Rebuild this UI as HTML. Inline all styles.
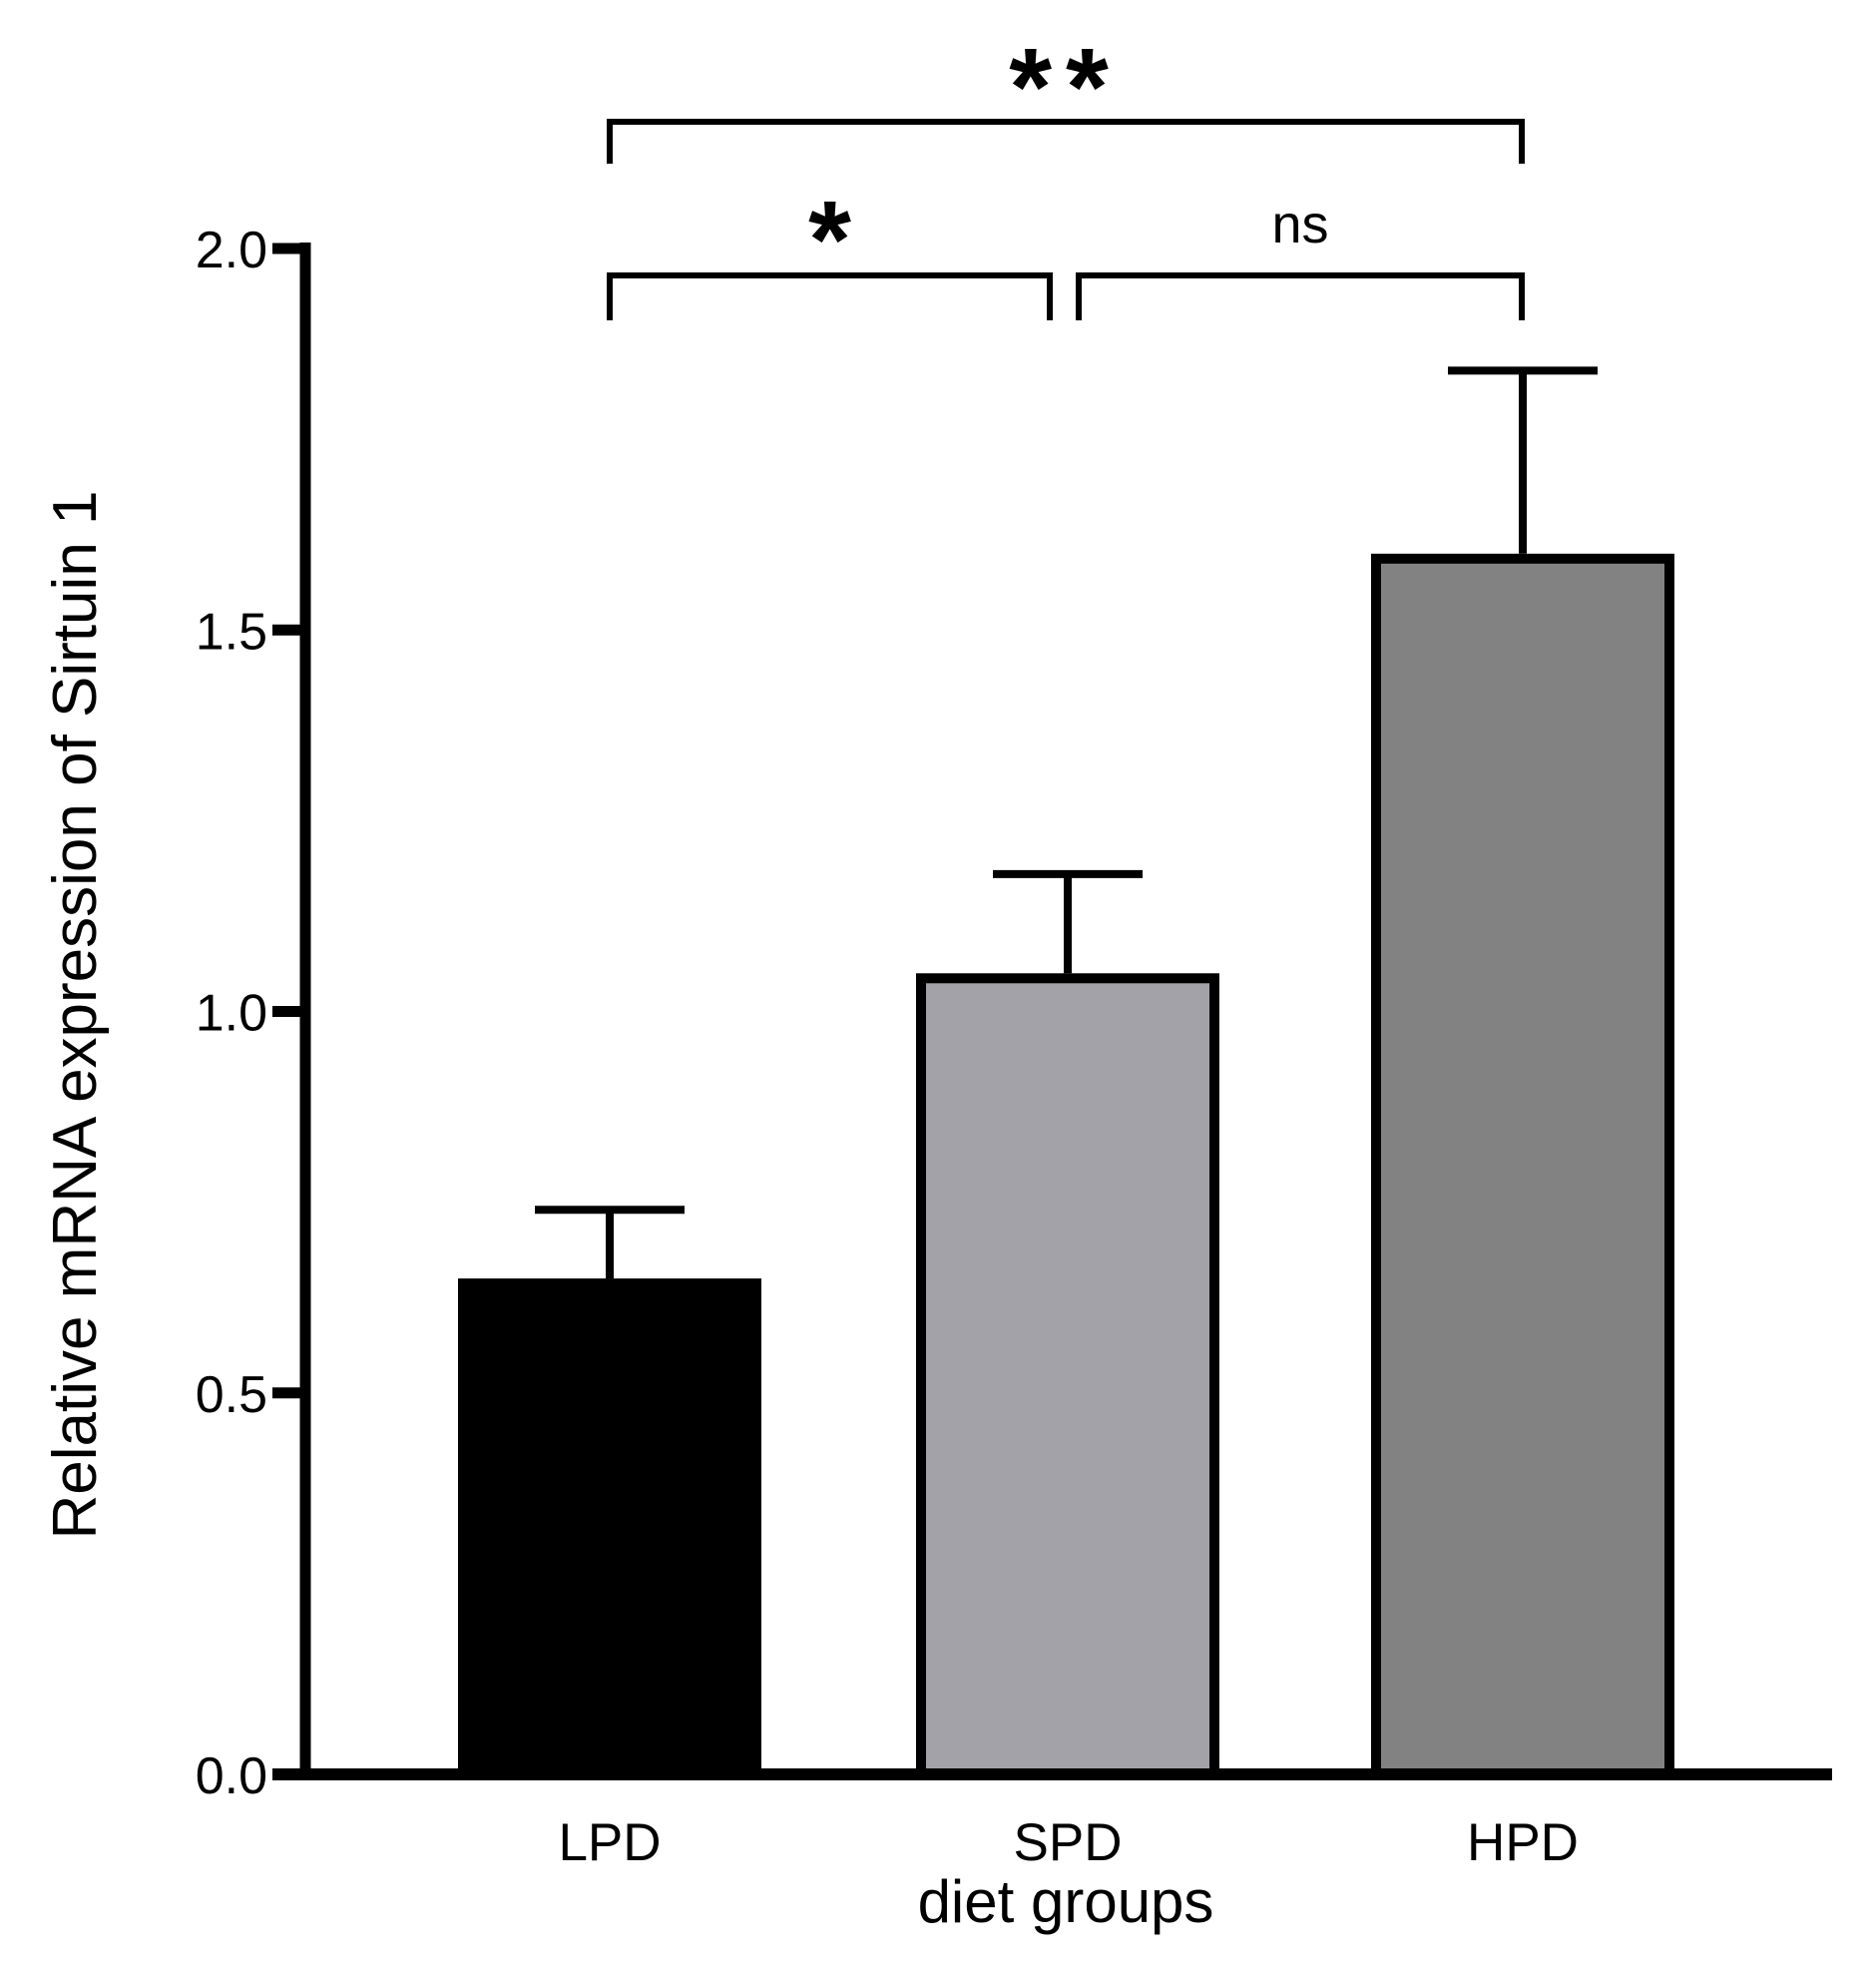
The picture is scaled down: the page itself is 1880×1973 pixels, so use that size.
<!DOCTYPE html>
<html><head><meta charset="utf-8"><style>
html,body{margin:0;padding:0;background:#fff;}
svg{display:block;}
text{font-family:"Liberation Sans","DejaVu Sans",sans-serif;fill:#000;}
</style></head><body>
<svg id="chart" width="1880" height="1973" viewBox="0 0 1880 1973" xmlns="http://www.w3.org/2000/svg">
<g id="plot"></g>
</svg>
<script>
const categories = ["LPD","SPD","HPD"];
const means = [0.65, 1.05, 1.60];
const errors = [0.09, 0.13, 0.24];
const fills = ["#000000","#a3a2a8","#828282"];
const yTicks = [0, 0.5, 1.0, 1.5, 2.0];
const yTickLabels = ["0.0","0.5","1.0","1.5","2.0"];
const sigLabels = ["**","*","ns"];

const NS="http://www.w3.org/2000/svg";
const g=document.getElementById('plot');
const Y0=1778, Y2=249;
function y(v){return Y0-(Y0-Y2)*v/2;}
const barCenters=[611,1070,1526];
function x(i){return barCenters[i];}
const barW=304;
function el(tag,attrs,parent){const e=document.createElementNS(NS,tag);for(const k in attrs)e.setAttribute(k,attrs[k]);(parent||g).appendChild(e);return e;}

means.forEach((m,i)=>{
  const cx=x(i);
  const eLine=el('line',{x1:cx,x2:cx,y1:y(m),y2:y(m+errors[i]),stroke:'#000','stroke-width':8});
  
  
  const cap=el('line',{x1:cx-75,x2:cx+75,y1:y(m+errors[i]),y2:y(m+errors[i]),stroke:'#000','stroke-width':8});
  
  
  const r=el('rect',{x:cx-barW/2+5,y:y(m)+5,width:barW-10,height:Y0-y(m)-5,fill:fills[i],stroke:'#000','stroke-width':10});
  
  
  const t=el('text',{x:cx,y:1864,'font-size':53,'text-anchor':'middle'});
  t.textContent=categories[i];
  
  
});

const ya=el('line',{x1:306,x2:306,y1:243,y2:1784,stroke:'#000','stroke-width':11});


const xa=el('line',{x1:273,x2:1836,y1:Y0,y2:Y0,stroke:'#000','stroke-width':12});


yTicks.forEach((v,i)=>{
  const tk=el('line',{x1:273,x2:306,y1:y(v),y2:y(v),stroke:'#000','stroke-width':11});
  
  
  const t=el('text',{x:268,y:y(v)+19,'font-size':52,'text-anchor':'end'});
  t.textContent=yTickLabels[i];
  
  
});

function bracket(x1,x2,yt,yb,label,ly,fs,ls,name){
  const p=el('path',{d:`M${x1},${yb} V${yt} H${x2} V${yb}`,fill:'none',stroke:'#000','stroke-width':6});
  
  
  const t=el('text',{x:(x1+x2)/2,y:ly,'font-size':fs,'text-anchor':'middle','font-weight':label==='ns'?'normal':'bold','letter-spacing':ls});
  t.textContent=label;
  
  
}
bracket(611,1525,122,164,sigLabels[0],125,110,14,'bracket-lpd-hpd');
bracket(611,1052,276,321,sigLabels[1],278,110,0,'bracket-lpd-spd');
bracket(1081,1525,276,321,sigLabels[2],243,54,0,'bracket-spd-hpd');

const xt=el('text',{x:1068,y:1926,'font-size':60,'text-anchor':'middle'});
xt.textContent='diet groups';


const yt=el('text',{x:0,y:0,'font-size':62,'text-anchor':'middle',transform:'translate(96,1017) rotate(-90)'});
yt.textContent='Relative mRNA expression of Sirtuin 1';


</script>
</body></html>
